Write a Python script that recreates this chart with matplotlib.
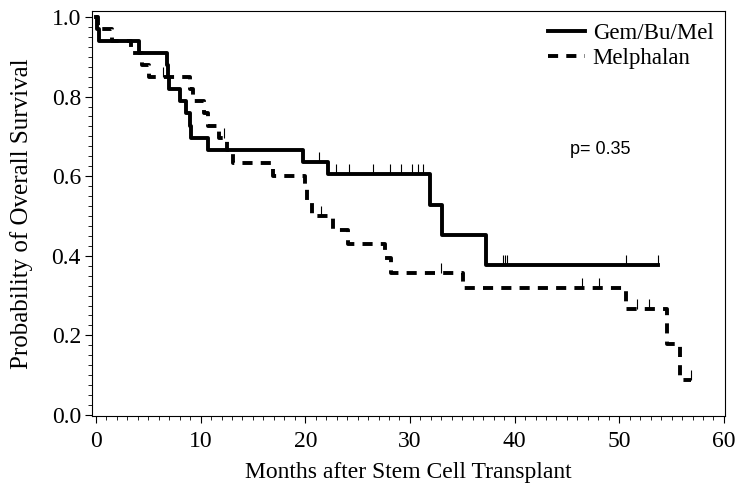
import numpy as np
import matplotlib
matplotlib.use("Agg")
import matplotlib.pyplot as plt

# Kaplan-Meier steps
gem_t = [0, 0.1, 0.3, 4.1, 6.8, 6.9, 7.0, 8.0, 8.6, 9.0, 9.1, 10.7, 19.8, 22.2, 31.9, 33.1, 37.3]
gem_s = [1.0, 0.970, 0.939, 0.909, 0.879, 0.848, 0.818, 0.788, 0.758, 0.727, 0.697, 0.667, 0.636, 0.606, 0.528, 0.452, 0.377]
gem_cens = [21.3, 22.9, 24.2, 26.5, 28.1, 29.1, 30.2, 30.8, 31.2, 38.9, 39.1, 39.3, 50.6, 53.7]
gem_end = 53.7

mel_t = [0, 0.2, 1.5, 3.3, 4.4, 5.1, 9.0, 9.3, 10.3, 10.7, 11.8, 12.5, 13.1, 16.9, 20.0, 20.2, 20.6,
         22.6, 24.1, 27.6, 28.2, 35.1, 50.6, 54.6, 55.8]
mel_s = [1.0, 0.970, 0.940, 0.909, 0.879, 0.849, 0.818, 0.788, 0.758, 0.727, 0.697, 0.667, 0.634, 0.601,
         0.568, 0.534, 0.501, 0.465, 0.430, 0.394, 0.358, 0.318, 0.267, 0.178, 0.089]
mel_cens = [6.4, 12.2, 21.5, 33.0, 46.4, 48.1, 51.7, 52.8, 56.9]
mel_end = 56.9

labels = ["Gem/Bu/Mel", "Melphalan"]
p_text = "p= 0.35"


def surv_at(t, s, c):
    idx = np.searchsorted(t, c, side="right") - 1
    return np.array(s)[idx]


serif = ["Liberation Serif", "DejaVu Serif"]

fig = plt.figure(figsize=(7.39, 4.95), dpi=100)
ax = fig.add_axes([0.1245, 0.1596, 0.8565, 0.8182])

dash = (0, (2.6, 2.1))
l2, = ax.step(np.r_[mel_t, mel_end], np.r_[mel_s, mel_s[-1]], where="post",
              color="black", lw=2.8, linestyle=dash, label=labels[1])
ax.plot(mel_cens, surv_at(mel_t, mel_s, mel_cens), linestyle="none", marker=2,
        ms=7, mew=0.8, color="black")

l1, = ax.step(np.r_[gem_t, gem_end], np.r_[gem_s, gem_s[-1]], where="post",
              color="black", lw=2.8, label=labels[0])
ax.plot(gem_cens, surv_at(gem_t, gem_s, gem_cens), linestyle="none", marker=2,
        ms=7, mew=0.8, color="black")

ax.set_xlim(-0.38, 60.1)
ax.set_ylim(-0.0025, 1.015)
ax.set_xticks(np.arange(0, 61, 10))
ax.set_xticks(np.arange(0, 61, 1), minor=True)
ax.set_yticks(np.arange(0, 1.01, 0.2))
ax.set_yticks(np.arange(0, 1.01, 0.025), minor=True)
ax.set_yticklabels(["%.1f" % v for v in np.arange(0, 1.01, 0.2)])
ax.tick_params(which="major", direction="out", length=5, width=0.8, pad=3)
ax.tick_params(which="minor", direction="out", length=3, width=0.6)
ax.tick_params(axis="x", which="major", pad=5.5)
for lab in ax.get_xticklabels() + ax.get_yticklabels():
    lab.set_family(serif)
    lab.set_fontsize(17)
for sp in ax.spines.values():
    sp.set_linewidth(0.8)

ax.set_xlabel("Months after Stem Cell Transplant", family=serif, fontsize=17, labelpad=7.5)
ax.set_ylabel("Probability of Overall Survival", family=serif, fontsize=18, labelpad=13)

ax.text(48.2, 0.666, p_text, family=["Liberation Sans", "DejaVu Sans"], fontsize=13,
        ha="center", va="center")

ax.legend(handles=[l1, l2], loc="upper right", bbox_to_anchor=(1.0, 0.998), frameon=False,
          prop={"family": serif, "size": 16.5}, handlelength=1.6, handletextpad=0.35,
          labelspacing=0.15, borderaxespad=0.1)

fig.savefig("out.png", dpi=100)
